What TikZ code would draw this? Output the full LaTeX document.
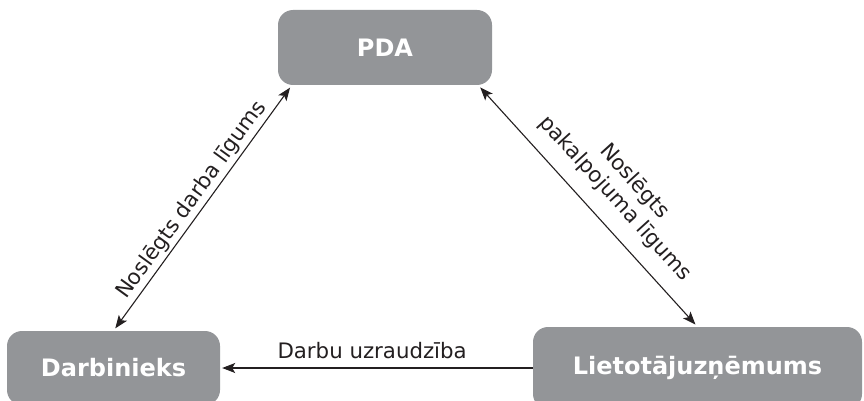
\documentclass[tikz,border=0pt]{standalone}
\usepackage{fontspec}
\setmainfont{DejaVu Sans}
\usetikzlibrary{calc,arrows.meta}
\definecolor{boxgray}{HTML}{939598}
\definecolor{ink}{HTML}{231F20}
\begin{document}
\begin{tikzpicture}[x=1pt,y=-1pt,
  party/.style={draw=none,fill=boxgray,rounded corners=15pt,text=white,
    font=\fontsize{24}{28}\selectfont\bfseries,inner sep=0pt},
  link/.style={draw=ink,line width=1.1pt,
    {Stealth[length=13pt,width=10pt,inset=3pt]}-{Stealth[length=13pt,width=10pt,inset=3pt]},
    shorten <=3pt,shorten >=3pt},
  oneway/.style={draw=ink,line width=1.1pt,
    -{Stealth[length=13pt,width=10pt,inset=3pt]},shorten >=2pt},
  lbl/.style={text=ink,font=\fontsize{21.3}{25.5}\selectfont,inner sep=2.5pt}]
  \useasboundingbox (0,0) rectangle (864,401);
  % the three parties
  \node[party,minimum width=214pt,minimum height=75pt] (pda) at (385,47.5) {PDA};
  \node[party,minimum width=213pt,minimum height=74pt] (darb) at (113.5,368) {Darbinieks};
  \node[party,minimum width=329pt,minimum height=82pt] (liet) at (697.5,368) {Lietotājuzņēmums};
  % arrow ends under the PDA box
  \coordinate (pdaL) at ($(pda.south west)+(14,0)$);
  \coordinate (pdaR) at ($(pda.south east)+(-14,0)$);
  % relations
  \draw[link] (darb.north) -- node[lbl,sloped,above,pos=0.5] {Noslēgts darba līgums} (pdaL);
  \draw[link] (pdaR) -- node[lbl,sloped,above=12pt,pos=0.54,align=center] {Noslēgts\\pakalpojuma līgums} (liet.north);
  \draw[oneway] (liet.west) -- node[lbl,above=6pt,pos=0.514,inner sep=3pt] {Darbu uzraudzība} (darb.east);
\end{tikzpicture}
\end{document}
